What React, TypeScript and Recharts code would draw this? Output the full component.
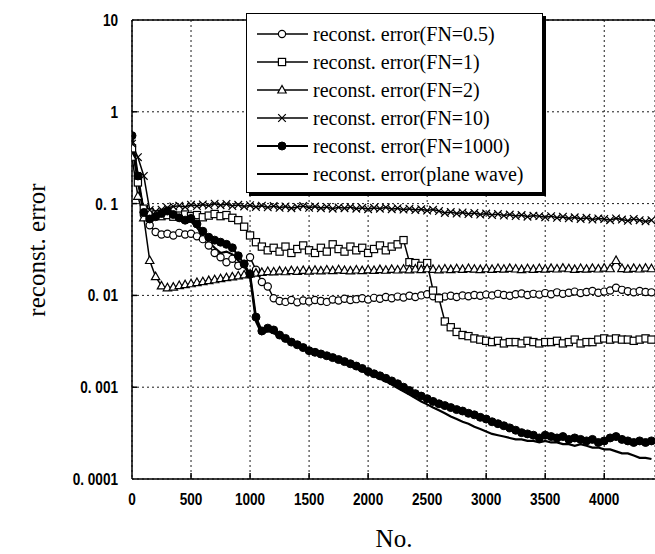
import React from "react";
import { LineChart, Line, XAxis, YAxis, CartesianGrid, Legend, ReferenceLine } from "recharts";

// iteration number, sampled every 50
const steps = [
  0, 50, 100, 150, 200, 250, 300, 350, 400, 450,
  500, 550, 600, 650, 700, 750, 800, 850, 900, 950,
  1000, 1050, 1100, 1150, 1200, 1250, 1300, 1350, 1400, 1450,
  1500, 1550, 1600, 1650, 1700, 1750, 1800, 1850, 1900, 1950,
  2000, 2050, 2100, 2150, 2200, 2250, 2300, 2350, 2400, 2450,
  2500, 2550, 2600, 2650, 2700, 2750, 2800, 2850, 2900, 2950,
  3000, 3050, 3100, 3150, 3200, 3250, 3300, 3350, 3400, 3450,
  3500, 3550, 3600, 3650, 3700, 3750, 3800, 3850, 3900, 3950,
  4000, 4050, 4100, 4150, 4200, 4250, 4300, 4350, 4400,
];

const fn05 = [
  0.42, 0.19, 0.075, 0.058, 0.049, 0.046, 0.047, 0.045, 0.048, 0.046,
  0.047, 0.044, 0.041, 0.035, 0.029, 0.026, 0.023, 0.025, 0.021, 0.022,
  0.026, 0.019, 0.014, 0.0125, 0.0093, 0.0087, 0.0085, 0.0089, 0.0084, 0.0088,
  0.0086, 0.0089, 0.0087, 0.0085, 0.009, 0.0088, 0.0092, 0.0089, 0.0091, 0.0093,
  0.009, 0.0094, 0.0092, 0.0096, 0.0093, 0.0097, 0.0095, 0.0099, 0.0096, 0.01,
  0.0103, 0.0098, 0.0095, 0.0097, 0.0099, 0.0096, 0.01, 0.0098, 0.0101, 0.0099,
  0.0102, 0.01, 0.0104, 0.0101, 0.0099, 0.0103, 0.0105, 0.0101, 0.0104, 0.0102,
  0.0106, 0.0103, 0.0108, 0.0104, 0.0107, 0.011, 0.0106, 0.0109, 0.0112, 0.0107,
  0.011, 0.0113, 0.0121, 0.0115, 0.0111, 0.0108, 0.0112, 0.0109, 0.0108,
];

const fn1 = [
  0.4, 0.17, 0.088, 0.08, 0.076, 0.073, 0.075, 0.072, 0.074, 0.076,
  0.073, 0.075, 0.071, 0.074, 0.077, 0.073, 0.075, 0.07, 0.066, 0.056,
  0.045, 0.038, 0.034, 0.031, 0.033, 0.03, 0.034, 0.029, 0.032, 0.035,
  0.031, 0.029, 0.033, 0.03, 0.036, 0.032, 0.03, 0.034, 0.031, 0.033,
  0.029, 0.032, 0.035, 0.031, 0.034, 0.036, 0.04, 0.023, 0.0225, 0.021,
  0.0225, 0.0113, 0.0093, 0.0052, 0.0045, 0.004, 0.0037, 0.0036, 0.0034, 0.0033,
  0.0032, 0.0031, 0.0032, 0.003, 0.0031, 0.0031, 0.003, 0.0032, 0.0031, 0.003,
  0.0031, 0.0031, 0.0032, 0.003, 0.0031, 0.0033, 0.003, 0.0031, 0.0031, 0.0033,
  0.0034, 0.0033, 0.0034, 0.0033, 0.0033, 0.0032, 0.0033, 0.0034, 0.0033,
];

const fn2 = [
  0.32, 0.12, 0.07, 0.024, 0.016, 0.0127, 0.0121, 0.0123, 0.0128, 0.0131,
  0.0134, 0.0138, 0.0141, 0.0145, 0.0148, 0.0152, 0.0156, 0.0159, 0.0163, 0.0167,
  0.0171, 0.0175, 0.0178, 0.0182, 0.018, 0.0184, 0.0181, 0.0186, 0.0183, 0.0187,
  0.0184, 0.0188, 0.0185, 0.0189, 0.0186, 0.019, 0.0187, 0.0185, 0.0189, 0.0186,
  0.019, 0.0187, 0.0191, 0.0188, 0.0192, 0.0189, 0.0193, 0.019, 0.0194, 0.0191,
  0.0195, 0.0192, 0.019, 0.0194, 0.0191, 0.0195, 0.0192, 0.0196, 0.0193, 0.0191,
  0.0195, 0.0192, 0.0196, 0.0193, 0.0197, 0.0194, 0.0191, 0.0195, 0.0192, 0.0196,
  0.0193, 0.0197, 0.0194, 0.0198, 0.0195, 0.0192, 0.0196, 0.0193, 0.0197, 0.0194,
  0.0198, 0.0195, 0.024, 0.0196, 0.0193, 0.0197, 0.0194, 0.0198, 0.0195,
];

const fn10 = [
  0.45, 0.32, 0.2, 0.085, 0.082, 0.086, 0.09, 0.093, 0.095, 0.092,
  0.097, 0.094, 0.098, 0.095, 0.1, 0.096, 0.099, 0.094, 0.097, 0.093,
  0.096, 0.092, 0.095, 0.091, 0.094, 0.09, 0.093, 0.089, 0.092, 0.094,
  0.09, 0.093, 0.089, 0.092, 0.088, 0.091, 0.089, 0.092, 0.088, 0.09,
  0.087, 0.09, 0.088, 0.091, 0.087, 0.089, 0.086, 0.088, 0.085, 0.087,
  0.084, 0.086, 0.083, 0.079, 0.081, 0.078, 0.08, 0.077, 0.079, 0.076,
  0.078, 0.075, 0.077, 0.074, 0.076, 0.073, 0.075, 0.072, 0.074, 0.073,
  0.071, 0.073, 0.07, 0.072, 0.069, 0.071, 0.068, 0.07, 0.067, 0.069,
  0.068, 0.066, 0.069, 0.067, 0.065, 0.068, 0.066, 0.064, 0.066,
];

const fn1000 = [
  0.55, 0.2, 0.08, 0.068, 0.072, 0.078, 0.083, 0.076, 0.07, 0.066,
  0.069, 0.06, 0.05, 0.043, 0.04, 0.038, 0.036, 0.033, 0.027, 0.022,
  0.017, 0.0058, 0.0041, 0.0044, 0.0042, 0.0037, 0.0034, 0.0031, 0.0029, 0.0027,
  0.0025, 0.0024, 0.0023, 0.0022, 0.0021, 0.002, 0.0019, 0.0018, 0.0017, 0.0016,
  0.00148, 0.0014, 0.00133, 0.00125, 0.00117, 0.00109, 0.001, 0.00092, 0.00085, 0.0008,
  0.00075, 0.0007, 0.00066, 0.00063, 0.0006, 0.00057, 0.00055, 0.00052, 0.0005, 0.00047,
  0.00045, 0.00042, 0.0004, 0.00038, 0.00036, 0.00034, 0.00032, 0.00031, 0.0003, 0.00028,
  0.0003, 0.00029, 0.00028, 0.00029, 0.00027, 0.00028, 0.00027, 0.00026, 0.00027, 0.00025,
  0.00026, 0.00028, 0.00029, 0.00027, 0.00026, 0.00025, 0.00026, 0.00025, 0.00026,
];

const planeWave = [
  0.5, 0.18, 0.075, 0.065, 0.07, 0.074, 0.078, 0.072, 0.066, 0.062,
  0.064, 0.055, 0.045, 0.038, 0.033, 0.029, 0.03, 0.028, 0.024, 0.021,
  0.016, 0.0052, 0.0038, 0.0041, 0.0039, 0.0035, 0.0032, 0.003, 0.0028, 0.0026,
  0.0024, 0.0023, 0.0022, 0.0021, 0.002, 0.0019, 0.0018, 0.0017, 0.0016, 0.0015,
  0.0014, 0.00132, 0.00124, 0.00116, 0.00107, 0.00098, 0.0009, 0.00083, 0.00076, 0.0007,
  0.00065, 0.0006, 0.00056, 0.00052, 0.00048, 0.00045, 0.00042, 0.0004, 0.00037, 0.00035,
  0.00033, 0.00031, 0.0003, 0.00029, 0.00028, 0.00027, 0.00027, 0.00026, 0.00026, 0.00025,
  0.00026, 0.00025, 0.00025, 0.00024, 0.00024, 0.00023, 0.00024, 0.00023, 0.00022, 0.00022,
  0.00021, 0.00021, 0.0002, 0.00019, 0.00019, 0.00018, 0.00017, 0.00017, 0.000165,
];

const xTicks = [0, 500, 1000, 1500, 2000, 2500, 3000, 3500, 4000];
const yTicks = [0.0001, 0.001, 0.01, 0.1, 1, 10];
const yTickLabels = ["0. 0001", "0. 001", "0. 01", "0. 1", "1", "10"];

const seriesNames = [
  "reconst. error(FN=0.5)",
  "reconst. error(FN=1)",
  "reconst. error(FN=2)",
  "reconst. error(FN=10)",
  "reconst. error(FN=1000)",
  "reconst. error(plane wave)",
];

const rows = steps.map((x, i) => ({
  x,
  fn05: fn05[i],
  fn1: fn1[i],
  fn2: fn2[i],
  fn10: fn10[i],
  fn1000: fn1000[i],
  plane: planeWave[i],
}));

const serif = "'Liberation Serif', 'Times New Roman', serif";
const tickFont = "'Liberation Sans', Arial, sans-serif";

type Shape = "circle" | "square" | "triangle" | "cross" | "dot" | "none";

function Marker({ shape, cx, cy }: { shape: Shape; cx: number; cy: number }) {
  const s = { stroke: "#000", strokeWidth: 1.2 };
  if (shape === "circle") return <circle cx={cx} cy={cy} r={3.6} fill="#fff" {...s} />;
  if (shape === "square") return <rect x={cx - 3.6} y={cy - 3.6} width={7.2} height={7.2} fill="#fff" {...s} />;
  if (shape === "triangle")
    return <polygon points={`${cx},${cy - 4.5} ${cx - 4.2},${cy + 3} ${cx + 4.2},${cy + 3}`} fill="#fff" {...s} />;
  if (shape === "cross")
    return (
      <path d={`M${cx - 3.8},${cy - 3.8}L${cx + 3.8},${cy + 3.8}M${cx - 3.8},${cy + 3.8}L${cx + 3.8},${cy - 3.8}`} {...s} />
    );
  if (shape === "dot") return <circle cx={cx} cy={cy} r={4} fill="#000" stroke="#000" />;
  return null;
}

const makeDot = (shape: Shape) => (p: any) => {
  if (p.cx == null || p.cy == null) return <g key={p.index} />;
  return (
    <g key={p.index}>
      <Marker shape={shape} cx={p.cx} cy={p.cy} />
    </g>
  );
};

const legendShapes: Shape[] = ["circle", "square", "triangle", "cross", "dot", "none"];
const legendWidths = [1.5, 1.5, 1.5, 1.5, 2.2, 2.2];

function LegendBox() {
  return (
    <div
      style={{
        width: 297,
        height: 180,
        boxSizing: "border-box",
        border: "1.5px solid #000",
        boxShadow: "3px 3px 0 #000",
        background: "#fff",
        paddingTop: 6,
      }}
    >
      {seriesNames.map((name, i) => (
        <div key={name} style={{ display: "flex", alignItems: "center", height: 28 }}>
          <svg width={66} height={28} style={{ flex: "none" }}>
            <line x1={10} x2={61} y1={14} y2={14} stroke="#000" strokeWidth={legendWidths[i]} />
            <Marker shape={legendShapes[i]} cx={35} cy={14} />
          </svg>
          <span style={{ fontFamily: serif, fontSize: 20, color: "#000", whiteSpace: "nowrap" }}>{name}</span>
        </div>
      ))}
    </div>
  );
}

function XTick({ x, y, payload }: any) {
  return (
    <g>
      {payload.value !== 0 && <line x1={x} x2={x} y1={y} y2={y - 6} stroke="#000" strokeWidth={1.5} />}
      <text
        transform={`translate(${x},${y + 26}) scale(0.8,1)`}
        textAnchor="middle"
        fontFamily={tickFont}
        fontWeight={700}
        fontSize={17}
        fill="#000"
      >
        {payload.value}
      </text>
    </g>
  );
}

function YTick({ x, y, payload }: any) {
  const i = yTicks.indexOf(payload.value);
  return (
    <g>
      {i > 0 && i < yTicks.length - 1 && <line x1={x} x2={x + 5} y1={y} y2={y} stroke="#000" strokeWidth={1.5} />}
      <text
        transform={`translate(${x - 14},${y + 6}) scale(0.8,1)`}
        textAnchor="end"
        fontFamily={tickFont}
        fontWeight={700}
        fontSize={17}
        fill="#000"
      >
        {yTickLabels[i]}
      </text>
    </g>
  );
}

export default function App() {
  return (
    <div style={{ position: "absolute", left: 0, top: 0, width: 655, height: 554, background: "#fff" }}>
      <LineChart width={655} height={554} data={rows} margin={{ top: 20, right: 0, bottom: 0, left: 0 }}>
        <CartesianGrid stroke="#000" strokeWidth={0.9} strokeDasharray="2 3" />
        <XAxis
          dataKey="x"
          type="number"
          domain={[0, 4430]}
          ticks={xTicks}
          allowDataOverflow
          height={75}
          tickSize={0}
          tickMargin={0}
          tickLine={false}
          tick={<XTick />}
          axisLine={{ stroke: "#000", strokeWidth: 1.5 }}
          label={{
            content: () => (
              <text x={394} y={547} textAnchor="middle" fontFamily={serif} fontSize={25} fill="#000">
                No.
              </text>
            ),
          }}
        />
        <YAxis
          type="number"
          scale="log"
          domain={[0.0001, 10]}
          ticks={yTicks}
          allowDataOverflow
          width={132}
          tickSize={0}
          tickMargin={0}
          tickLine={false}
          tick={<YTick />}
          axisLine={{ stroke: "#000", strokeWidth: 1.5 }}
          label={{
            content: () => (
              <text
                x={36}
                y={250}
                transform="rotate(-90 36 250)"
                textAnchor="middle"
                dominantBaseline="central"
                fontFamily={serif}
                fontSize={25}
                fill="#000"
              >
                reconst. error
              </text>
            ),
          }}
        />
        <ReferenceLine y={10} stroke="#000" strokeWidth={1.5} />
        <Line dataKey="fn05" stroke="#000" strokeWidth={1.5} dot={makeDot("circle")} isAnimationActive={false} />
        <Line dataKey="fn1" stroke="#000" strokeWidth={1.5} dot={makeDot("square")} isAnimationActive={false} />
        <Line dataKey="fn2" stroke="#000" strokeWidth={1.5} dot={makeDot("triangle")} isAnimationActive={false} />
        <Line dataKey="fn10" stroke="#000" strokeWidth={1.5} dot={makeDot("cross")} isAnimationActive={false} />
        <Line dataKey="fn1000" stroke="#000" strokeWidth={2.2} dot={makeDot("dot")} isAnimationActive={false} />
        <Line dataKey="plane" stroke="#000" strokeWidth={2.2} dot={false} isAnimationActive={false} />
        <Legend
          layout="horizontal"
          verticalAlign="middle"
          align="center"
          content={() => <LegendBox />}
          wrapperStyle={{ position: "absolute", left: 246, top: 13, width: 300, height: 184 }}
        />
      </LineChart>
    </div>
  );
}
